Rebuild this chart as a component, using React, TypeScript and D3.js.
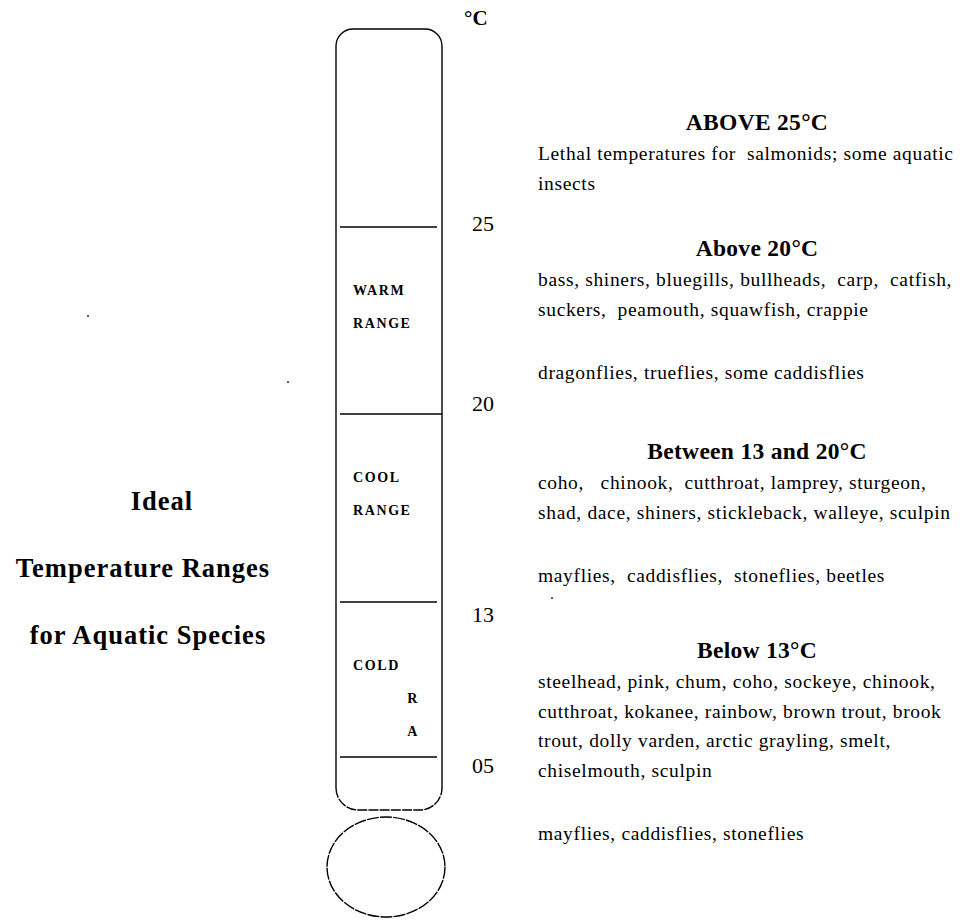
import React, { useEffect } from "react";
import * as d3 from "d3";

// ---- data ----
const tickTemps = [25, 20, 13, 5];
const tickLabels = ["25", "20", "13", "05"];
const unitLabel = "°C";
const rangeBands: [number, number][] = [
  [20, 25],
  [13, 20],
  [5, 13],
];
const rangeLabelLines = [
  ["WARM", "RANGE"],
  ["COOL", "RANGE"],
  ["COLD", "R", "A"],
];
const titleLines = ["Ideal", "Temperature Ranges", "for Aquatic Species"];
const headings = ["ABOVE 25°C", "Above 20°C", "Between 13 and 20°C", "Below 13°C"];
const speciesLines = [
  ["Lethal temperatures for  salmonids; some aquatic", "insects"],
  [
    "bass, shiners, bluegills, bullheads,  carp,  catfish,",
    "suckers,  peamouth, squawfish, crappie",
    "",
    "dragonflies, trueflies, some caddisflies",
  ],
  [
    "coho,   chinook,  cutthroat, lamprey, sturgeon,",
    "shad, dace, shiners, stickleback, walleye, sculpin",
    "",
    "mayflies,  caddisflies,  stoneflies, beetles",
  ],
  [
    "steelhead, pink, chum, coho, sockeye, chinook,",
    "cutthroat, kokanee, rainbow, brown trout, brook",
    "trout, dolly varden, arctic grayling, smelt,",
    "chiselmouth, sculpin",
    "",
    "mayflies, caddisflies, stoneflies",
  ],
];

const FONT = '"Liberation Serif", "Times New Roman", Times, serif';

export default function App() {
  useEffect(() => {
    document.body.style.margin = "0";
  }, []);

  const W = 960;
  const H = 922;

  // temperature scale (piecewise, as drawn on the thermometer)
  const y = d3.scaleLinear().domain([5, 13, 20, 25]).range([757, 602, 414, 227]);

  // thermometer geometry
  const tx0 = 336;
  const tx1 = 442;
  const tTop = 29;
  const tBot = 810;
  const rTop = 17;
  const rBot = 22;

  const topPath = d3.path();
  topPath.moveTo(tx0, tBot - rBot);
  topPath.lineTo(tx0, tTop + rTop);
  topPath.arcTo(tx0, tTop, tx0 + rTop, tTop, rTop);
  topPath.lineTo(tx1 - rTop, tTop);
  topPath.arcTo(tx1, tTop, tx1, tTop + rTop, rTop);
  topPath.lineTo(tx1, tBot - rBot);

  const botPath = d3.path();
  botPath.moveTo(tx0, tBot - rBot);
  botPath.arcTo(tx0, tBot, tx0 + rBot, tBot, rBot);
  botPath.lineTo(tx1 - rBot, tBot);
  botPath.arcTo(tx1, tBot, tx1, tBot - rBot, rBot);

  const bulb = { cx: 386, cy: 867, rx: 59, ry: 50 };

  // label offsets (relative to tick line) for tick numbers
  const tickLabelDy = [4, -3, 20, 16];

  // species block layout
  const headBase = [130, 256, 459, 658];
  const headCx = 757;
  const textX = 538;

  const strays = [
    [88, 316],
    [288, 382],
    [552, 598],
  ];

  return (
    <svg
      width={W}
      height={H}
      viewBox={`0 0 ${W} ${H}`}
      style={{ position: "absolute", left: 0, top: 0, background: "#fff" }}
    >
      <rect x={0} y={0} width={W} height={H} fill="#fff" />

      {/* thermometer */}
      <g fill="none" stroke="#000" strokeWidth={1.4}>
        <path d={topPath.toString()} />
        <path d={botPath.toString()} strokeDasharray="10 1.2" />
        <ellipse
          cx={bulb.cx}
          cy={bulb.cy}
          rx={bulb.rx}
          ry={bulb.ry}
          strokeDasharray="12 1.2"
        />
        {tickTemps.map((t) => (
          <line
            key={t}
            x1={tx0 + 4}
            x2={t === 20 ? tx1 : tx1 - 5}
            y1={y(t)}
            y2={y(t)}
          />
        ))}
      </g>

      {/* unit */}
      <text
        x={464}
        y={25}
        fontFamily={FONT}
        fontWeight="bold"
        fontSize={21}
        fill="#000"
      >
        {unitLabel}
      </text>

      {/* tick labels */}
      {tickTemps.map((t, i) => (
        <text
          key={"tl" + t}
          x={472}
          y={y(t) + tickLabelDy[i]}
          fontFamily={FONT}
          fontSize={22}
          fill="#000"
        >
          {tickLabels[i]}
        </text>
      ))}

      {/* range labels inside tube */}
      {rangeBands.map((b, i) => {
        const top = y(b[1]);
        return rangeLabelLines[i].map((ln, j) => {
          const single = ln.length === 1;
          return (
            <text
              key={"rl" + i + "-" + j}
              x={single ? 413 : 353}
              y={top + 63 + j * 33 + 5}
              textAnchor={single ? "middle" : "start"}
              fontFamily={FONT}
              fontWeight="bold"
              fontSize={14}
              letterSpacing={1.6}
              fill="#000"
            >
              {ln}
            </text>
          );
        });
      })}

      {/* left title */}
      {titleLines.map((ln, i) => (
        <text
          key={"tt" + i}
          x={i === 0 ? 162 : i === 1 ? 143 : 148}
          y={510 + i * 67}
          textAnchor="middle"
          fontFamily={FONT}
          fontWeight="bold"
          fontSize={26.5}
          letterSpacing={1}
          fill="#000"
        >
          {ln}
        </text>
      ))}

      {/* species blocks */}
      {headings.map((h, i) => {
        let yy = headBase[i] + 30;
        const items: React.ReactNode[] = [];
        speciesLines[i].forEach((ln, j) => {
          if (ln === "") {
            yy += 34;
            return;
          }
          items.push(
            <text
              key={"sp" + i + "-" + j}
              x={textX}
              y={yy}
              fontFamily={FONT}
              fontSize={19.5}
              letterSpacing={0.65}
              fill="#000"
              style={{ whiteSpace: "pre" }}
            >
              {ln}
            </text>
          );
          yy += 29.5;
        });
        return (
          <g key={"blk" + i}>
            <text
              x={headCx}
              y={headBase[i]}
              textAnchor="middle"
              fontFamily={FONT}
              fontWeight="bold"
              fontSize={23.5}
              letterSpacing={0.3}
              fill="#000"
            >
              {h}
            </text>
            {items}
          </g>
        );
      })}

      {/* stray specks */}
      {strays.map((p, i) => (
        <circle key={"s" + i} cx={p[0]} cy={p[1]} r={1.1} fill="#333" />
      ))}
    </svg>
  );
}
